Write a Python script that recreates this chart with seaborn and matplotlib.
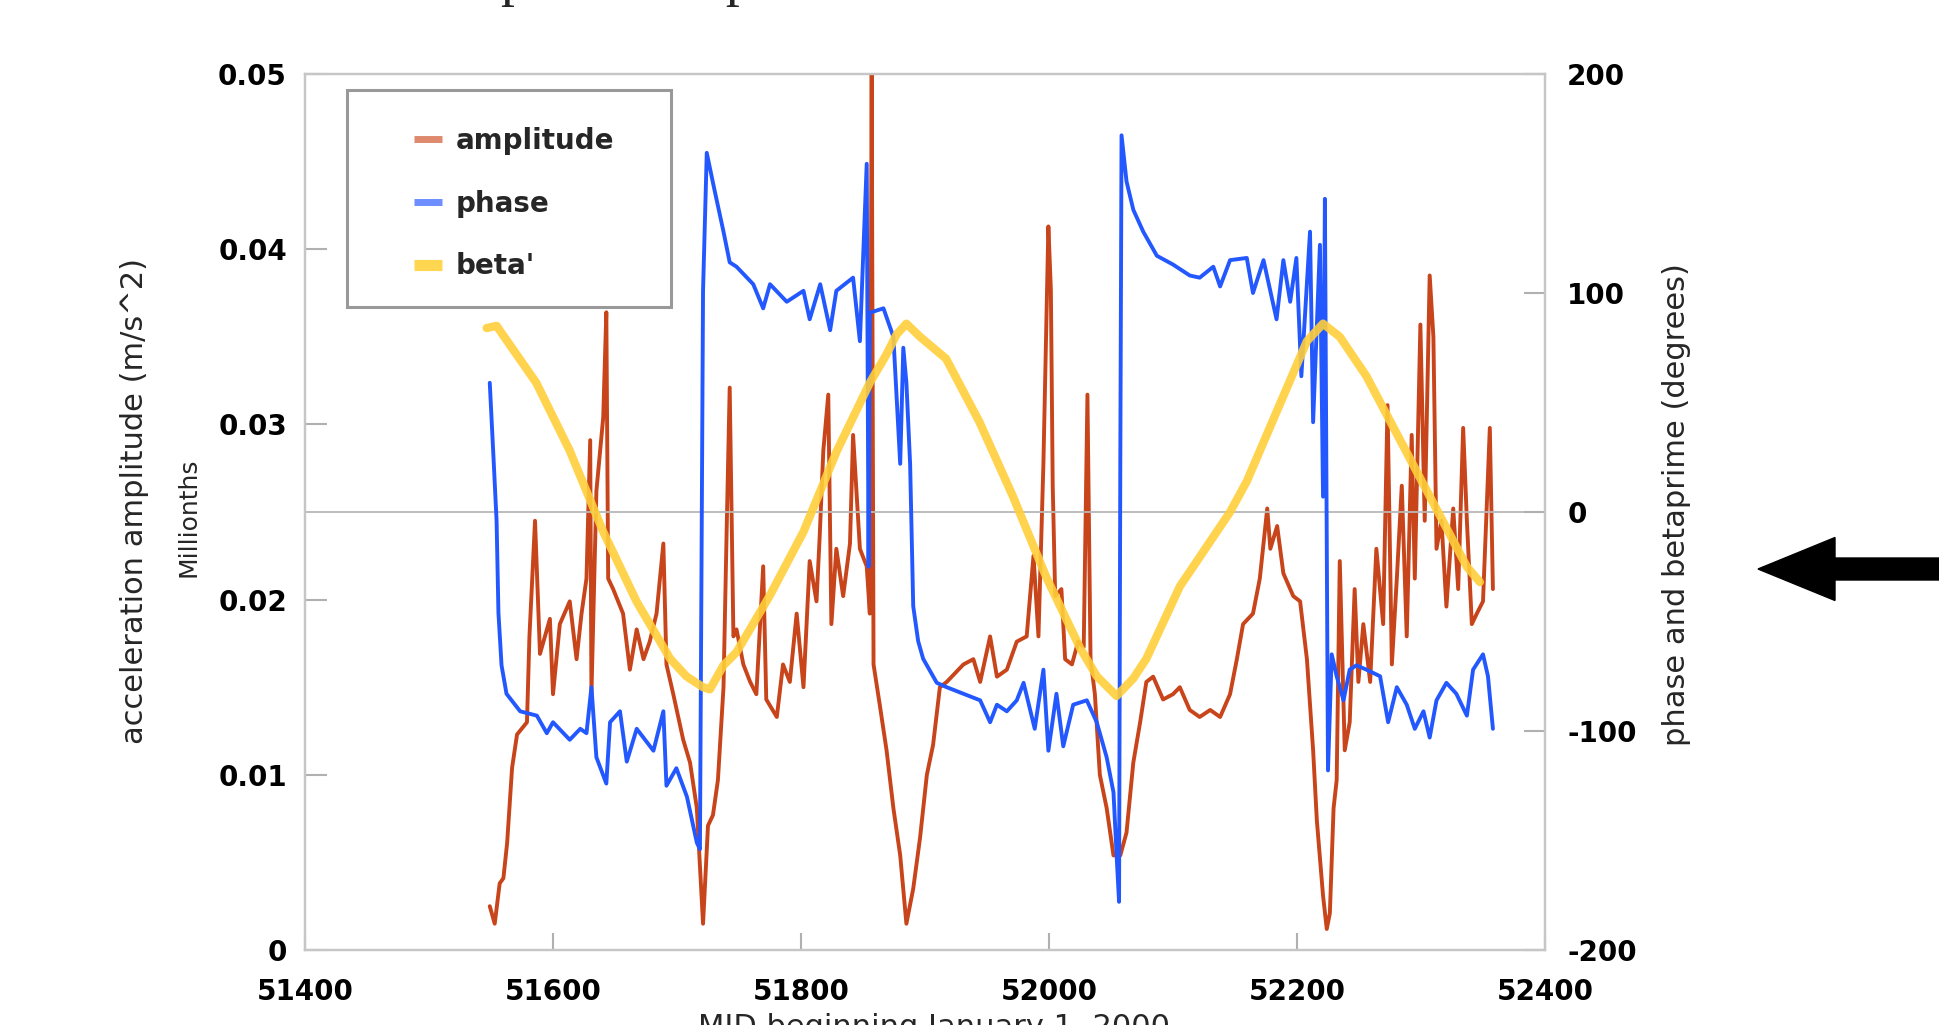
import matplotlib
matplotlib.use("Agg")
import matplotlib.pyplot as plt
import seaborn as sns
import pandas as pd
from matplotlib.lines import Line2D
from matplotlib.patches import Rectangle, FancyArrow

sns.set_theme(style="white")
plt.rcParams['font.family'] = ['DejaVu Sans']

# ---------------- data ----------------
amp_day = [51549, 51553, 51557, 51560, 51563, 51567, 51571, 51579, 51581, 51585.5,
           51589.5, 51597.5, 51600, 51605.5, 51613.5, 51619, 51623, 51627, 51630, 51631,
           51635, 51640.5, 51643, 51644.5, 51648.5, 51656.5, 51662, 51667.5, 51673, 51678,
           51683.5, 51689, 51691.5, 51697, 51705, 51710.5, 51716, 51718.5, 51721, 51725,
           51729, 51733, 51737.5, 51740, 51742.5, 51745.5, 51748, 51753.5, 51759, 51764,
           51769.5, 51772, 51780.5, 51785.5, 51791, 51796.5, 51802, 51807, 51812.5, 51815,
           51818, 51822, 51824.5, 51828.5, 51834, 51839.5, 51842, 51847.5, 51853, 51855.5,
           51857, 51858.5, 51863.5, 51869, 51874.5, 51880, 51885, 51890.5, 51896, 51901.5,
           51906.5, 51912, 51917.5, 51931, 51939, 51944.5, 51952.5, 51958, 51966, 51974,
           51982, 51987.5, 51991.5, 51995.5, 51999.5, 52001.5, 52003, 52005, 52010, 52013,
           52018.5, 52023.5, 52028, 52031, 52033.5, 52037, 52041, 52046.5, 52052, 52057.5,
           52062.5, 52068, 52073.5, 52078.5, 52084, 52092, 52100, 52105.5, 52113.5, 52121.5,
           52130, 52138, 52146, 52151.5, 52156.5, 52164.5, 52170, 52176, 52178.5, 52184,
           52189, 52197, 52202.5, 52208, 52213, 52216, 52221, 52224, 52226.5, 52229.5,
           52232, 52234.5, 52238.5, 52242.5, 52246.5, 52249.5, 52253.5, 52259, 52264, 52269.5,
           52273, 52276.5, 52280.5, 52284.5, 52288.5, 52292.5, 52295, 52299.5, 52303, 52307,
           52310, 52312.5, 52316.5, 52320.5, 52326, 52330, 52334, 52337, 52341, 52345,
           52350, 52355.5, 52358]
amp_val = [0.0025, 0.0015, 0.0038, 0.0041, 0.0061, 0.0104, 0.0123, 0.0130, 0.0179, 0.0245,
           0.0169, 0.0189, 0.0146, 0.0186, 0.0199, 0.0166, 0.0192, 0.0212, 0.0291, 0.0146,
           0.0262, 0.0304, 0.0364, 0.0212, 0.0206, 0.0192, 0.0160, 0.0183, 0.0166, 0.0176,
           0.0192, 0.0232, 0.0163, 0.0146, 0.0120, 0.0107, 0.0081, 0.0048, 0.0015, 0.0071,
           0.0077, 0.0097, 0.0150, 0.0238, 0.0321, 0.0179, 0.0183, 0.0163, 0.0153, 0.0146,
           0.0219, 0.0143, 0.0133, 0.0163, 0.0153, 0.0192, 0.0150, 0.0222, 0.0199, 0.0235,
           0.0285, 0.0317, 0.0186, 0.0229, 0.0202, 0.0232, 0.0294, 0.0229, 0.0219, 0.0192,
           0.0502, 0.0163, 0.0140, 0.0114, 0.0081, 0.0054, 0.0015, 0.0035, 0.0064, 0.0100,
           0.0117, 0.0150, 0.0153, 0.0163, 0.0166, 0.0153, 0.0179, 0.0156, 0.0160, 0.0176,
           0.0179, 0.0225, 0.0179, 0.0278, 0.0413, 0.0377, 0.0265, 0.0202, 0.0206, 0.0166,
           0.0163, 0.0176, 0.0173, 0.0317, 0.0166, 0.0146, 0.0100, 0.0081, 0.0054, 0.0054,
           0.0067, 0.0107, 0.0130, 0.0153, 0.0156, 0.0143, 0.0146, 0.0150, 0.0137, 0.0133,
           0.0137, 0.0133, 0.0146, 0.0166, 0.0186, 0.0192, 0.0212, 0.0252, 0.0229, 0.0242,
           0.0215, 0.0202, 0.0199, 0.0166, 0.0114, 0.0074, 0.0031, 0.0012, 0.0021, 0.0081,
           0.0097, 0.0222, 0.0114, 0.0130, 0.0206, 0.0153, 0.0186, 0.0153, 0.0229, 0.0186,
           0.0311, 0.0163, 0.0212, 0.0265, 0.0179, 0.0294, 0.0212, 0.0357, 0.0245, 0.0385,
           0.0350, 0.0229, 0.0245, 0.0196, 0.0252, 0.0206, 0.0298, 0.0245, 0.0186, 0.0192,
           0.0199, 0.0298, 0.0206]

phase_day = [51549, 51552, 51554.5, 51556, 51558.5, 51562.5, 51573.5, 51587, 51595, 51600,
             51613.5, 51622, 51627, 51631, 51635, 51643, 51646, 51654, 51659.5, 51667.5,
             51681, 51689, 51691.5, 51699.5, 51708, 51716, 51718.5, 51721, 51724, 51729.5,
             51737.5, 51742.5, 51748, 51761.5, 51769.5, 51775, 51788.5, 51802, 51807, 51815.5,
             51823.5, 51828.5, 51842, 51847.5, 51853, 51854.5, 51855.5, 51866.5, 51874.5, 51880,
             51882.5, 51885, 51888, 51890.5, 51894.5, 51898.5, 51909.5, 51917.5, 51931, 51944.5,
             51952.5, 51958, 51966, 51974, 51979.5, 51988.5, 51995.5, 51999.5, 52006, 52011.5,
             52019.5, 52030.5, 52038.5, 52046.5, 52052, 52055, 52056.5, 52057.5, 52058.5, 52062.5,
             52068, 52076, 52087, 52100, 52113.5, 52121.5, 52132.5, 52138, 52146, 52159.5,
             52164.5, 52173, 52183.5, 52189, 52194.5, 52199.5, 52203.5, 52210.5, 52213, 52218.5,
             52221, 52222.5, 52225, 52228, 52232, 52237.5, 52242.5, 52248, 52256, 52267,
             52273.5, 52280.5, 52288.5, 52295, 52302, 52307, 52312.5, 52320.5, 52328.5, 52337,
             52342, 52350, 52354, 52358]
phase_val = [59, 25, -4, -46, -70, -83, -91, -93, -101, -96,
             -104, -99, -101, -80, -112, -124, -96, -91, -114, -99,
             -109, -91, -125, -117, -130, -151, -154, 101, 164, 149,
             128, 114, 112, 104, 93, 104, 96, 101, 88, 104,
             83, 101, 107, 78, 159, -25, 91, 93, 80, 22,
             75, 59, 22, -43, -59, -67, -78, -80, -83, -86,
             -96, -88, -91, -86, -78, -99, -72, -109, -83, -107,
             -88, -86, -96, -112, -128, -162, -178, 22, 172, 151,
             138, 128, 117, 113, 108, 107, 112, 103, 115, 116,
             100, 115, 88, 115, 96, 116, 62, 128, 41, 122,
             7, 143, -118, -65, -75, -86, -72, -70, -72, -75,
             -96, -80, -88, -99, -91, -103, -86, -78, -83, -93,
             -72, -65, -75, -99]

beta_day = [51546.5, 51554.5, 51586.5, 51613.5, 51640.5, 51667.5, 51694.5, 51707.5, 51721,
            51726.5, 51737.5, 51748, 51775, 51802, 51829, 51855.5, 51869, 51877, 51885,
            51896, 51906.5, 51917, 51944, 51971, 51998, 52025, 52038.5, 52054.5, 52068,
            52078.5, 52105.5, 52146, 52159.5, 52186, 52208, 52221, 52234.5, 52256, 52283,
            52310, 52337, 52347.5]
beta_val = [84, 85, 59, 28, -9, -41, -67, -75, -80,
            -81, -70, -64, -38, -9, 28, 59, 72, 81, 86,
            80, 75, 70, 41, 7, -30, -62, -75, -84, -76,
            -67, -34, 0, 14, 49, 78, 86, 80, 62, 33,
            4, -25, -32]

x_ticks = [51400, 51600, 51800, 52000, 52200, 52400]
left_ticks = [0, 0.01, 0.02, 0.03, 0.04, 0.05]
left_tick_labels = ["0", "0.01", "0.02", "0.03", "0.04", "0.05"]
right_ticks = [-200, -100, 0, 100, 200]
series_names = ["amplitude", "phase", "beta'"]

# ---------------- figure ----------------
W, H = 1939, 1025
fig = plt.figure(figsize=(W / 100, H / 100), dpi=100)
ax = fig.add_axes([305 / W, 1 - 950 / H, 1240 / W, 876 / H])
ax2 = ax.twinx()

RED = "#c8441a"
BLUE = "#2458ff"
YELLOW = "#ffcf3a"

amp_df = pd.DataFrame({"day": amp_day, "value": amp_val})
phase_df = pd.DataFrame({"day": phase_day, "value": phase_val})
beta_df = pd.DataFrame({"day": beta_day, "value": beta_val})

ax2.axhline(0, color="#b8b8b8", lw=1.3, zorder=0)

sns.lineplot(data=amp_df, x="day", y="value", ax=ax, color=RED, linewidth=2.8,
             estimator=None, sort=False, legend=False)
sns.lineplot(data=phase_df, x="day", y="value", ax=ax2, color=BLUE, linewidth=2.8,
             estimator=None, sort=False, legend=False)
sns.lineplot(data=beta_df, x="day", y="value", ax=ax2, color=YELLOW, linewidth=6,
             alpha=0.9, estimator=None, sort=False, legend=False)

ax.set_xlim(51400, 52400)
ax.set_ylim(0, 0.05)
ax2.set_ylim(-200, 200)
ax.set_xticks(x_ticks)
ax.set_xticklabels([str(t) for t in x_ticks])
ax.set_yticks(left_ticks)
ax.set_yticklabels(left_tick_labels)
ax2.set_yticks(right_ticks)
ax2.set_yticklabels([str(t) for t in right_ticks])

SPINE = "#c6c6c6"
TICK = "#b0b0b0"
for a in (ax, ax2):
    for s in a.spines.values():
        s.set_color(SPINE)
        s.set_linewidth(1.6)
        s.set_visible(True)
ax.tick_params(axis="x", direction="in", length=12, width=1.5, color=TICK, pad=20,
               labelsize=20, labelcolor="black", bottom=True)
ax.tick_params(axis="y", direction="in", length=16, width=1.5, color=TICK, pad=13,
               labelsize=20, labelcolor="black", left=True)
ax2.tick_params(axis="y", direction="in", length=15, width=1.5, color=TICK, pad=16,
                labelsize=20, labelcolor="black", right=True)
for lab in ax.get_xticklabels() + ax.get_yticklabels() + ax2.get_yticklabels():
    lab.set_fontweight("bold")
ax.grid(False)
ax2.grid(False)

ax.set_xlabel("MJD beginning January 1, 2000", fontsize=22)
ax.xaxis.set_label_coords(0.507, -0.072)
ax.set_ylabel("acceleration amplitude (m/s^2)", fontsize=22)
ax.yaxis.set_label_coords(-0.126, 0.512)
ax2.set_ylabel("phase and betaprime (degrees)", fontsize=22)
ax2.yaxis.set_label_coords(1.094, 0.509)

fig.text(189 / W, 1 - 517 / H, "Millionths", rotation=90, fontsize=18,
         ha="center", va="center")

# legend box and entries
ax2.add_patch(Rectangle((0.034, 0.734), 0.261, 0.248, transform=ax2.transAxes,
                        fill=False, edgecolor="#999999", lw=2.2, zorder=5))
handles = [Line2D([], [], color="#df8a6e", lw=5, solid_capstyle="butt"),
           Line2D([], [], color="#6e8dff", lw=5, solid_capstyle="butt"),
           Line2D([], [], color="#ffd650", lw=8, solid_capstyle="butt")]
leg = ax2.legend(handles, series_names, loc="upper left", bbox_to_anchor=(0.0879, 0.9395),
                 frameon=False, prop={"size": 20, "weight": "bold"}, borderpad=0,
                 borderaxespad=0, handlelength=1.0, handletextpad=0.5, labelspacing=1.25)
leg.set_zorder(6)

# cut-off title at the very top (only descenders visible)
fig.text(0.07, 1.0045, "Acceleration amplitude & phase", family="Liberation Serif",
         fontsize=40, ha="left", va="baseline")

# arrow at right edge
fig.patches.append(FancyArrow(1.02, 1 - 569 / H, 1758 / W - 1.02, 0,
                              width=22 / H, head_width=63 / H, head_length=77 / W,
                              length_includes_head=True, color="black",
                              transform=fig.transFigure, figure=fig))

fig.savefig("out.png", dpi=100)
